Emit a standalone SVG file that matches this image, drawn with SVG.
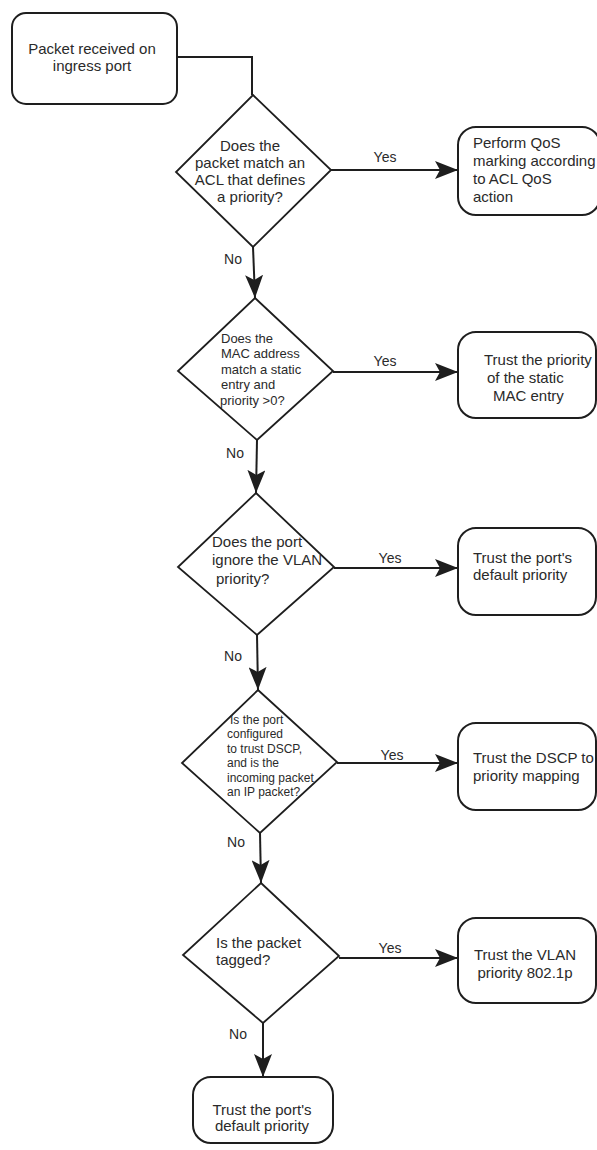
<svg xmlns="http://www.w3.org/2000/svg" width="597" height="1150" viewBox="0 0 597 1150">
<style>
.bg{fill:#ffffff}
.box{fill:#ffffff;stroke:#1e1e1e;stroke-width:2}
.dia{fill:#ffffff;stroke:#1e1e1e;stroke-width:1.8}
.ln{fill:none;stroke:#1e1e1e;stroke-width:2}
text{font-family:"Liberation Sans",Arial,Helvetica,sans-serif;fill:#2a2a2a}
.t15{font-size:15px}
.t14{font-size:14px}
.t13{font-size:13px}
.t12{font-size:12px}
.c{text-anchor:middle}
</style>
<defs>
<marker id="ah" markerUnits="userSpaceOnUse" markerWidth="23" markerHeight="18" refX="23" refY="9" orient="auto">
<path d="M0,0 L23,9 L0,18 L5,9 Z" fill="#1e1e1e"/>
</marker>
</defs>
<rect class="bg" x="0" y="0" width="597" height="1150"/>

<g id="connectors">
<polyline class="ln" points="177,57 252,57 252,95"/>
<line class="ln" x1="253" y1="247" x2="255" y2="298" marker-end="url(#ah)"/>
<line class="ln" x1="331" y1="170" x2="458" y2="170" marker-end="url(#ah)"/>
<line class="ln" x1="257" y1="440" x2="256" y2="493" marker-end="url(#ah)"/>
<line class="ln" x1="333" y1="372" x2="458" y2="372" marker-end="url(#ah)"/>
<line class="ln" x1="257" y1="635" x2="258" y2="690" marker-end="url(#ah)"/>
<line class="ln" x1="334" y1="568" x2="458" y2="568" marker-end="url(#ah)"/>
<line class="ln" x1="260" y1="833" x2="261" y2="883" marker-end="url(#ah)"/>
<line class="ln" x1="337" y1="763" x2="458" y2="763" marker-end="url(#ah)"/>
<line class="ln" x1="263" y1="1023" x2="263" y2="1077" marker-end="url(#ah)"/>
<line class="ln" x1="339" y1="958" x2="458" y2="958" marker-end="url(#ah)"/>
<text class="t14 c" x="385" y="162">Yes</text>
<text class="t14 c" x="233" y="264">No</text>
<text class="t14 c" x="385" y="366">Yes</text>
<text class="t14 c" x="235" y="458">No</text>
<text class="t14 c" x="390" y="563">Yes</text>
<text class="t14 c" x="233" y="661">No</text>
<text class="t14 c" x="392" y="760">Yes</text>
<text class="t14 c" x="236" y="847">No</text>
<text class="t14 c" x="390" y="953">Yes</text>
<text class="t14 c" x="238" y="1039">No</text>
</g>

<g id="start">
<rect class="box" x="12" y="13" width="165" height="91" rx="14"/>
<text class="t15 c" x="92" y="54">Packet received on</text>
<text class="t15 c" x="92" y="71">ingress port</text>
</g>

<g id="d1">
<polygon class="dia" points="253,95 331,170 253,247 176,172"/>
<text class="t15 c" x="250" y="151">Does the</text>
<text class="t15 c" x="250" y="168">packet match an</text>
<text class="t15 c" x="250" y="185">ACL that defines</text>
<text class="t15 c" x="250" y="202">a priority?</text>
</g>

<g id="r1">
<rect class="box" x="458" y="127" width="142" height="88" rx="18"/>
<text class="t15" x="473" y="148">Perform QoS</text>
<text class="t15" x="473" y="166">marking according</text>
<text class="t15" x="473" y="184">to ACL QoS</text>
<text class="t15" x="473" y="202">action</text>
</g>

<g id="d2">
<polygon class="dia" points="255,298 333,371 257,440 178,371"/>
<text class="t13" x="221" y="343">Does the</text>
<text class="t13" x="221" y="358">MAC address</text>
<text class="t13" x="221" y="374">match a static</text>
<text class="t13" x="221" y="389">entry and</text>
<text class="t13" x="220" y="405">priority &gt;0?</text>
</g>

<g id="r2">
<rect class="box" x="458" y="332" width="138" height="86" rx="18"/>
<text class="t15" x="484" y="365">Trust the priority</text>
<text class="t15" x="487" y="383">of the static</text>
<text class="t15" x="493" y="401">MAC entry</text>
</g>

<g id="d3">
<polygon class="dia" points="256,493 334,567 257,635 178,567"/>
<text class="t15" x="212" y="547">Does the port</text>
<text class="t15" x="212" y="565">ignore the VLAN</text>
<text class="t15" x="216" y="584">priority?</text>
</g>

<g id="r3">
<rect class="box" x="458" y="528" width="138" height="87" rx="18"/>
<text class="t15" x="473" y="563">Trust the port's</text>
<text class="t15" x="473" y="580">default priority</text>
</g>

<g id="d4">
<polygon class="dia" points="258,690 337,762 260,833 182,763"/>
<text class="t12" x="230" y="724">Is the port</text>
<text class="t12" x="227" y="738">configured</text>
<text class="t12" x="227" y="753">to trust DSCP,</text>
<text class="t12" x="227" y="767">and is the</text>
<text class="t12" x="227" y="782">incoming packet</text>
<text class="t12" x="227" y="796">an IP packet?</text>
</g>

<g id="r4">
<rect class="box" x="458" y="723" width="138" height="87" rx="18"/>
<text class="t15" x="473" y="763">Trust the DSCP to</text>
<text class="t15" x="473" y="781">priority mapping</text>
</g>

<g id="d5">
<polygon class="dia" points="261,883 339,956 263,1023 183,955"/>
<text class="t15" x="216" y="948">Is the packet</text>
<text class="t15" x="216" y="965">tagged?</text>
</g>

<g id="r5">
<rect class="box" x="458" y="918" width="138" height="85" rx="18"/>
<text class="t15 c" x="525" y="960">Trust the VLAN</text>
<text class="t15 c" x="525" y="978">priority 802.1p</text>
</g>

<g id="end">
<rect class="box" x="193" y="1077" width="140" height="66" rx="18"/>
<text class="t15 c" x="262" y="1115">Trust the port's</text>
<text class="t15 c" x="262" y="1131">default priority</text>
</g>
</svg>
